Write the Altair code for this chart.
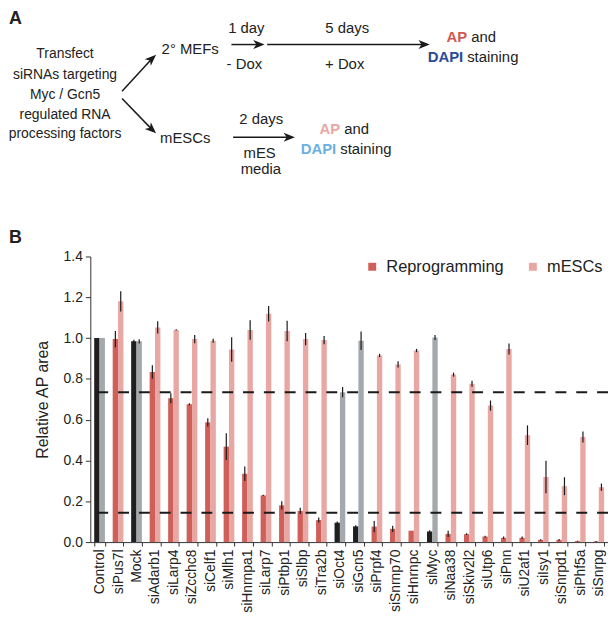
import altair as alt
import pandas as pd
import math

# ---------------- data ----------------
categories = ["Control", "siPus7l", "Mock", "siAdarb1", "siLarp4", "siZcchc8", "siCelf1",
              "siMlh1", "siHnrnpa1", "siLarp7", "siPtbp1", "siSlbp", "siTra2b", "siOct4",
              "siGcn5", "siPrpf4", "siSnrnp70", "siHnrnpc", "siMyc", "siNaa38", "siSkiv2l2",
              "siUtp6", "siPnn", "siU2af1", "siIsy1", "siSnrpd1", "siPhf5a", "siSnrpg"]
controls = ["Control", "Mock", "siOct4", "siGcn5", "siMyc"]

reprogramming = [1.0, 0.995, 0.984, 0.834, 0.705, 0.676, 0.587, 0.468, 0.335, 0.229, 0.180,
                 0.153, 0.108, 0.095, 0.077, 0.076, 0.065, 0.056, 0.052, 0.040, 0.039, 0.027,
                 0.021, 0.021, 0.011, 0.011, 0.005, 0.003]
reprogramming_err = [0, 0.04, 0.008, 0.033, 0.025, 0.005, 0.02, 0.066, 0.035, 0.003, 0.02,
                     0.015, 0.012, 0.006, 0.006, 0.028, 0.015, 0, 0.006, 0.015, 0.004, 0.004,
                     0.006, 0.006, 0.003, 0.004, 0.002, 0.002]
mescs = [1.0, 1.18, 0.984, 1.052, 1.04, 0.995, 0.987, 0.944, 1.04, 1.119, 1.035, 0.995, 0.99,
         0.735, 0.987, 0.915, 0.871, 0.939, 1.003, 0.821, 0.776, 0.669, 0.947, 0.524, 0.319,
         0.274, 0.515, 0.269]
mescs_err = [0, 0.05, 0.01, 0.03, 0.003, 0.02, 0.01, 0.06, 0.048, 0.038, 0.05, 0.03, 0.02,
             0.025, 0.045, 0.008, 0.015, 0.008, 0.012, 0.01, 0.015, 0.025, 0.027, 0.048, 0.08,
             0.044, 0.027, 0.018]
thresholds = [0.735, 0.144]

series_names = ["Reprogramming", "mESCs"]
color_keys = ["Reprogramming", "mESCs", "Control rep", "Control mESC"]
color_range = ["#cf5f59", "#e8a7a3", "#1f1f1f", "#a6a9ab"]

rows = []
for i, c in enumerate(categories):
    for s, vals, errs in [("Reprogramming", reprogramming, reprogramming_err),
                          ("mESCs", mescs, mescs_err)]:
        v, e = vals[i], errs[i]
        if c in controls:
            key = "Control rep" if s == "Reprogramming" else "Control mESC"
        else:
            key = s
        rows.append({"cat": c, "series": s, "value": v, "err": e,
                     "lo": v - e, "hi": v + e, "key": key})
df = pd.DataFrame(rows)
df_thr = pd.DataFrame({"thr": thresholds})

# ---------------- layout ----------------
FONT = "Liberation Sans"
PAD_L, PAD_T, PAD_B, PAD_R = 83, 248, 75, 0
W, H = 522, 288


def X(px):
    return px - 8 - PAD_L


def Y(py):
    return py - 8 - PAD_T


one = alt.Data(values=[{"a": 1}])

x_enc = alt.X("cat:N", sort=categories,
              scale=alt.Scale(paddingInner=0.42, paddingOuter=0.21),
              axis=alt.Axis(title=None, labelAngle=-90, tickBand="extent", tickSize=4,
                            labelPadding=3, labelFontSize=14, labelFont=FONT,
                            labelColor="#222", domainColor="#333", tickColor="#333"))
xo_enc = alt.XOffset("series:N", sort=series_names,
                     scale=alt.Scale(paddingInner=0, paddingOuter=0))
y_scale = alt.Scale(domain=[0, 1.4], nice=False)

bars = alt.Chart(df).mark_bar().encode(
    x=x_enc,
    xOffset=xo_enc,
    y=alt.Y("value:Q", scale=y_scale,
            axis=alt.Axis(values=[0, 0.2, 0.4, 0.6, 0.8, 1.0, 1.2, 1.4], format=".1f",
                          grid=False, title="Relative AP area", titleFontSize=16,
                          titleFontWeight="normal", titleFont=FONT, titleColor="#222",
                          titlePadding=13, tickSize=5, labelPadding=3, labelFontSize=14,
                          labelFont=FONT, labelColor="#222", domainColor="#333",
                          tickColor="#333")),
    color=alt.Color("key:N", scale=alt.Scale(domain=color_keys, range=color_range),
                    legend=alt.Legend(values=series_names, orient="none", legendX=276,
                                      legendY=2, direction="horizontal", title=None,
                                      symbolType="square", symbolSize=64,
                                      symbolStrokeWidth=0, labelFontSize=16.5,
                                      labelFont=FONT, labelColor="#222", labelOffset=6,
                                      columnPadding=21, padding=0)),
)

errs = alt.Chart(df).transform_filter("datum.err > 0").mark_rule(
    color="#1a1a1a", strokeWidth=1.2).encode(
    x=alt.X("cat:N", sort=categories), xOffset=xo_enc,
    y=alt.Y("lo:Q", scale=y_scale), y2="hi:Q")

dashes = alt.Chart(df_thr).mark_rule(color="#1a1a1a", strokeWidth=2,
                                     strokeDash=[11, 10]).encode(
    y=alt.Y("thr:Q", scale=y_scale))

layers = [bars, errs, dashes]


def text(s, px, py, size=15, color="#222", weight="normal", align="center"):
    return alt.Chart(one).mark_text(text=s, font=FONT, fontSize=size, color=color,
                                    fontWeight=weight, align=align, baseline="middle").encode(
        x=alt.value(X(px)), y=alt.value(Y(py)))


ARROW = "M1,0 L-1,-0.8 L-0.45,0 L-1,0.8 Z"
R = 5.7


def arrow(x0, y0, x1, y1, angle):
    a = math.radians(angle if angle < 180 else angle - 360)
    cx, cy = x1 - R * math.cos(a), y1 - R * math.sin(a)
    line = alt.Chart(one).mark_rule(color="#1a1a1a", strokeWidth=1.5).encode(
        x=alt.value(X(x0)), y=alt.value(Y(y0)), x2=alt.value(X(cx)), y2=alt.value(Y(cy)))
    head = alt.Chart(one).mark_point(shape=ARROW, filled=True, size=130, color="#1a1a1a",
                                     opacity=1, angle=angle % 360).encode(
        x=alt.value(X(cx)), y=alt.value(Y(cy)))
    return [line, head]


# panel labels
layers.append(text("A", 9, 17, size=18, weight="bold", align="left"))
layers.append(text("B", 9, 237, size=18, weight="bold", align="left"))

# panel A text
for s, yy in [("Transfect", 52.3), ("siRNAs targeting", 72.7), ("Myc / Gcn5", 93.3),
              ("regulated RNA", 113.3), ("processing factors", 132.7)]:
    layers.append(text(s, 65.5, yy, size=14))
layers.append(text("2° MEFs", 191.7, 46.7))
layers.append(text("mESCs", 186.7, 136.7))
layers.append(text("1 day", 248.3, 26))
layers.append(text("- Dox", 246.3, 61.7))
layers.append(text("5 days", 350, 26))
layers.append(text("+ Dox", 347.5, 61.7))
layers.append(text("2 days", 263.3, 117.3))
layers.append(text("mES", 261.7, 151.7))
layers.append(text("media", 263, 168.3))

layers.append(text("AP", 471, 35, color="#cd5b55", weight="bold", align="right"))
layers.append(text("and", 475, 35, align="left"))
layers.append(text("DAPI", 467, 55, color="#2a4a9a", weight="bold", align="right"))
layers.append(text("staining", 471, 55, align="left"))
layers.append(text("AP", 343, 128, color="#eba6a3", weight="bold", align="right"))
layers.append(text("and", 347, 128, align="left"))
layers.append(text("DAPI", 339, 148, color="#6bb0e3", weight="bold", align="right"))
layers.append(text("staining", 343, 148, align="left"))

# arrows
layers += arrow(123, 89.3, 157.3, 52.7, 317.4)
layers += arrow(123, 96.7, 157.3, 131.7, 42.6)
layers += arrow(233.3, 42.3, 266.7, 42.3, 0)
layers += arrow(269.3, 42.3, 433.3, 42.3, 0)
layers += arrow(235, 135.7, 297.3, 135.7, 0)

chart = alt.layer(*layers).properties(
    width=W, height=H,
    autosize=alt.AutoSizeParams(type="none"),
    padding={"left": PAD_L, "top": PAD_T, "bottom": PAD_B, "right": PAD_R},
    background="white",
).configure_view(stroke=None)

chart.save("out.html", embed_options={"renderer": "svg", "actions": False})
